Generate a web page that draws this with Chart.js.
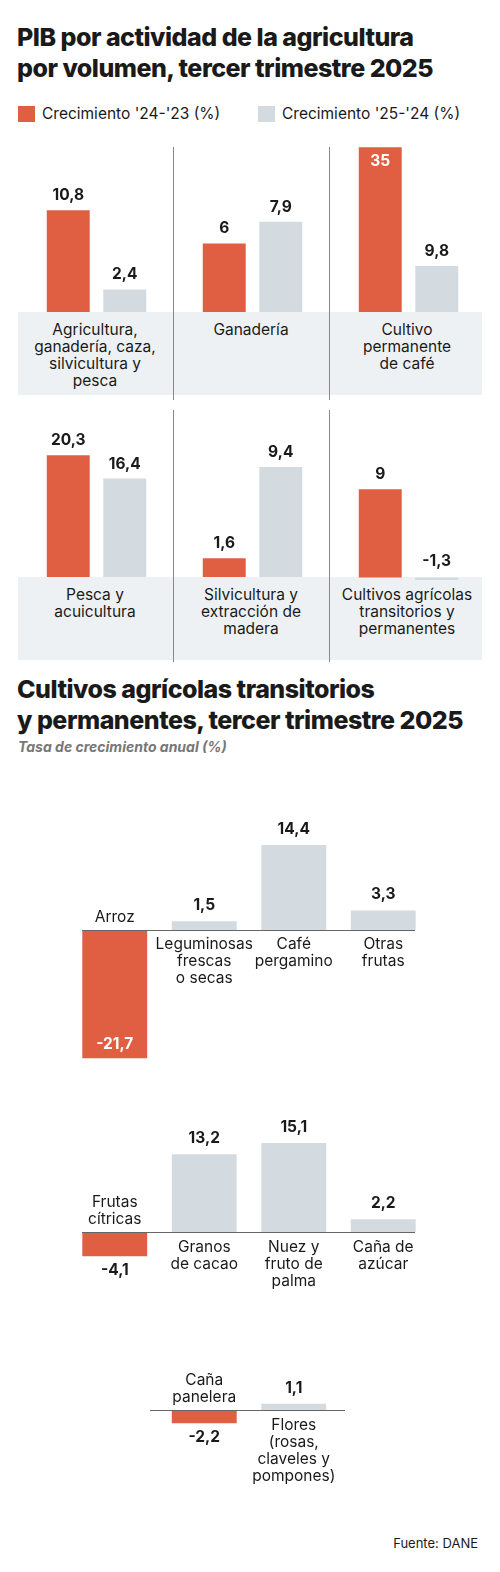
<!DOCTYPE html>
<html><head><meta charset="utf-8">
<script src="https://cdn.jsdelivr.net/npm/chart.js@4"></script>
<style>
body{margin:0;width:500px;height:1572px;background:#fff;font-family:Inter,Roboto,"Noto Sans",sans-serif;color:#1a1a1a;position:relative;overflow:hidden}
.abs{position:absolute}
h1{position:absolute;left:17px;margin:0;font-size:25px;line-height:31px;font-weight:800;letter-spacing:-0.5px}
.lab{position:absolute;text-align:center;font-size:15.5px;line-height:17px}
.box{position:absolute;background:#eef1f4}
.div{position:absolute;width:1px;background:#888}
</style></head><body>
<h1 style="top:22px">PIB por actividad de la agricultura<br>por volumen, tercer trimestre 2025</h1>
<div class="abs" style="left:18px;top:106px;width:17px;height:16px;background:#e05f43"></div>
<div class="abs" style="left:42px;top:104px;font-size:15.5px">Crecimiento '24-'23 (%)</div>
<div class="abs" style="left:258px;top:106px;width:17px;height:16px;background:#d3dbe1"></div>
<div class="abs" style="left:282px;top:104px;font-size:15.5px">Crecimiento '25-'24 (%)</div>
<div class="box" style="left:18px;top:312px;width:464px;height:83px"></div>
<div class="box" style="left:18px;top:577px;width:464px;height:83px"></div>
<div class="div" style="left:173px;top:147px;height:253px"></div>
<div class="div" style="left:329px;top:147px;height:253px"></div>
<div class="div" style="left:173px;top:410px;height:252px"></div>
<div class="div" style="left:329px;top:410px;height:252px"></div>
<h1 style="top:674px">Cultivos agrícolas transitorios<br>y permanentes, tercer trimestre 2025</h1>
<div class="abs" style="left:18px;top:738px;font-size:14px;font-style:italic;font-weight:700;color:#777">Tasa de crecimiento anual (%)</div>
<div class="abs" style="right:22px;top:1535px;font-size:13px">Fuente: DANE</div>
<script>
// ---- data ----
const panelNames = ["Agricultura,\nganadería, caza,\nsilvicultura y\npesca","Ganadería","Cultivo\npermanente\nde café","Pesca y\nacuicultura","Silvicultura y\nextracción de\nmadera","Cultivos agrícolas\ntransitorios y\npermanentes"];
const growth2423 = [10.8, 6, 35, 20.3, 1.6, 9];
const growth2524 = [2.4, 7.9, 9.8, 16.4, 9.4, -1.3];
const seriesNames = ["Crecimiento '24-'23 (%)","Crecimiento '25-'24 (%)"];
const panelMax = [20.4, 16.8, 40.8, 32, 16.4, 19.6];

const rowA_cats = ["Arroz","Leguminosas\nfrescas\no secas","Café\npergamino","Otras\nfrutas"];
const rowA_vals = [-21.7, 1.5, 14.4, 3.3];
const rowB_cats = ["Frutas\ncítricas","Granos\nde cacao","Nuez y\nfruto de\npalma","Caña de\nazúcar"];
const rowB_vals = [-4.1, 13.2, 15.1, 2.2];
const rowC_cats = ["","Caña\npanelera","Flores\n(rosas,\nclaveles y\npompones)",""];
const rowC_vals = [null, -2.2, 1.1, null];

const RED="#e05f43", GREY="#d3dbe1";
const FF='Inter, Roboto, sans-serif';
const fmt=v=>String(v).replace('.',',');

function mk(left,top,w,h){const c=document.createElement('canvas');c.style.cssText=`position:absolute;left:${left}px;top:${top}px;width:${w}px;height:${h}px`;c.width=w;c.height=h;document.body.appendChild(c);return c;}

const topLabels={id:'tl',afterDatasetsDraw(ch){const ctx=ch.ctx;ctx.save();ctx.font='700 15.5px '+FF;ctx.textAlign='center';
 ch.data.datasets[0].data.forEach((v,i)=>{const el=ch.getDatasetMeta(0).data[i];const y=Math.min(el.y,el.base);
  if(y<40){ctx.fillStyle='#fff';ctx.textBaseline='top';ctx.fillText(fmt(v),el.x,y+6);}
  else{ctx.fillStyle='#1a1a1a';ctx.textBaseline='bottom';ctx.fillText(fmt(v),el.x,y-(v<0?8:7));}});ctx.restore();}};

panelNames.forEach((name,i)=>{
  const col=i%3,row=Math.floor(i/3);
  const left=18+col*156, top=row?385:120;
  const h=192+(i===5?3:0);
  const c=mk(left,top,154,h);
  new Chart(c,{type:'bar',data:{labels:seriesNames,datasets:[{data:[growth2423[i],growth2524[i]],backgroundColor:[RED,GREY],barPercentage:0.76,categoryPercentage:1}]},
   options:{responsive:false,animation:false,events:[],layout:{padding:{left:22,right:19}},plugins:{legend:{display:false},tooltip:{enabled:false}},
   scales:{x:{display:false},y:{display:false,min:i===5?-0.25:0,max:panelMax[i]}}},plugins:[topLabels]});
  const d=document.createElement('div');d.className='lab';d.style.cssText=`left:${left}px;top:${(row?577:312)+9}px;width:154px`;d.innerText=name;document.body.appendChild(d);
});

const rowLabels={id:'rl',afterDatasetsDraw(ch){const ctx=ch.ctx;const o=ch.options.plugins.rl;ctx.save();ctx.textAlign='center';
 const meta=ch.getDatasetMeta(0);const ys=ch.scales.y.getPixelForValue(0);
 ctx.strokeStyle='#666';ctx.lineWidth=1;ctx.beginPath();ctx.moveTo(o.x0,Math.round(ys)+0.5);ctx.lineTo(o.x1,Math.round(ys)+0.5);ctx.stroke();
 ch.data.datasets[0].data.forEach((v,i)=>{if(v==null)return;const el=meta.data[i];const lines=ch.data.labels[i].split('\n');
  ctx.font='700 15.5px '+FF;
  if(v>=0){ctx.fillStyle='#1a1a1a';ctx.textBaseline='bottom';ctx.fillText(fmt(v),el.x,el.y-8);
    ctx.font='15.5px '+FF;ctx.textBaseline='top';lines.forEach((l,k)=>ctx.fillText(l,el.x,ys+7+k*17));}
  else{const inside=(el.y-ys)>60;
    if(inside){ctx.fillStyle='#fff';ctx.textBaseline='bottom';ctx.fillText(fmt(v),el.x,el.y-6);}
    else{ctx.fillStyle='#1a1a1a';ctx.textBaseline='top';ctx.fillText(fmt(v),el.x,el.y+6);}
    ctx.fillStyle='#1a1a1a';ctx.font='15.5px '+FF;ctx.textBaseline='bottom';const n=lines.length;lines.forEach((l,k)=>ctx.fillText(l,el.x,ys-5-(n-1-k)*17));}
 });ctx.restore();}};

function row(cats,vals,top,h,min,max,x0,x1){
  const c=mk(0,top,500,h);
  new Chart(c,{type:'bar',data:{labels:cats,datasets:[{data:vals,backgroundColor:vals.map(v=>v<0?RED:GREY),barPercentage:0.725,categoryPercentage:1}]},
   options:{responsive:false,animation:false,events:[],layout:{padding:{left:70,right:72}},plugins:{legend:{display:false},tooltip:{enabled:false},rl:{x0,x1}},
   scales:{x:{display:false},y:{display:false,min,max}}},plugins:[rowLabels]});
}
row(rowA_cats,rowA_vals,780,300,-25.4,25.4,82,415);
row(rowB_cats,rowB_vals,1100,220,-14.9,22.4,82,415);
row(rowC_cats,rowC_vals,1340,190,-20.3,11.9,150,345);
</script>
</body></html>
